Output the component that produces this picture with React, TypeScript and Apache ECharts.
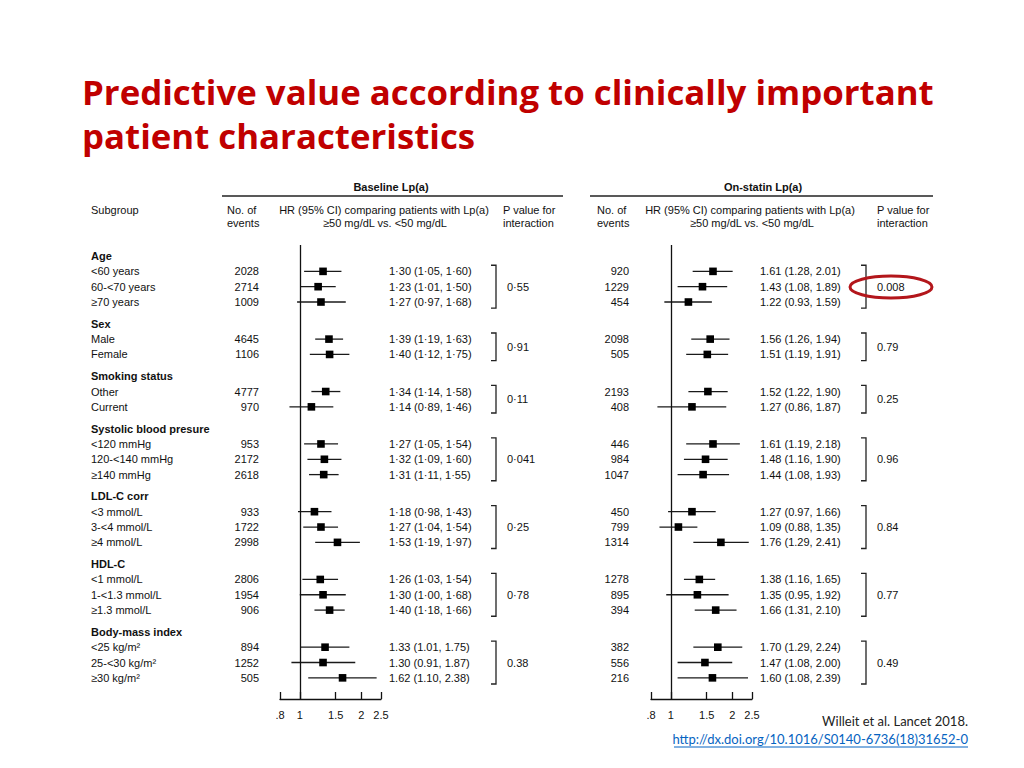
import React, { useEffect, useRef } from "react";
import * as echarts from "echarts";

// ---------- data ----------
const groupNames = [
  "Age",
  "Sex",
  "Smoking status",
  "Systolic blood presure",
  "LDL-C corr",
  "HDL-C",
  "Body-mass index",
];
const subgroupLabels = [
  ["<60 years", "60-<70 years", "≥70 years"],
  ["Male", "Female"],
  ["Other", "Current"],
  ["<120 mmHg", "120-<140 mmHg", "≥140 mmHg"],
  ["<3 mmol/L", "3-<4 mmol/L", "≥4 mmol/L"],
  ["<1 mmol/L", "1-<1.3 mmol/L", "≥1.3 mmol/L"],
  ["<25 kg/m²", "25-<30 kg/m²", "≥30 kg/m²"],
];

const baseEvents = [2028, 2714, 1009, 4645, 1106, 4777, 970, 953, 2172, 2618, 933, 1722, 2998, 2806, 1954, 906, 894, 1252, 505];
const baseHR = [1.30, 1.23, 1.27, 1.39, 1.40, 1.34, 1.14, 1.27, 1.32, 1.31, 1.18, 1.27, 1.53, 1.26, 1.30, 1.40, 1.33, 1.30, 1.62];
const baseLow = [1.05, 1.01, 0.97, 1.19, 1.12, 1.14, 0.89, 1.05, 1.09, 1.11, 0.98, 1.04, 1.19, 1.03, 1.00, 1.18, 1.01, 0.91, 1.10];
const baseHigh = [1.60, 1.50, 1.68, 1.63, 1.75, 1.58, 1.46, 1.54, 1.60, 1.55, 1.43, 1.54, 1.97, 1.54, 1.68, 1.66, 1.75, 1.87, 2.38];
const baseP = ["0·55", "0·91", "0·11", "0·041", "0·25", "0·78", "0.38"];
const baseDecimalMark = ["·", "·", "·", "·", "·", "·", "."];

const statEvents = [920, 1229, 454, 2098, 505, 2193, 408, 446, 984, 1047, 450, 799, 1314, 1278, 895, 394, 382, 556, 216];
const statHR = [1.61, 1.43, 1.22, 1.56, 1.51, 1.52, 1.27, 1.61, 1.48, 1.44, 1.27, 1.09, 1.76, 1.38, 1.35, 1.66, 1.70, 1.47, 1.60];
const statLow = [1.28, 1.08, 0.93, 1.26, 1.19, 1.22, 0.86, 1.19, 1.16, 1.08, 0.97, 0.88, 1.29, 1.16, 0.95, 1.31, 1.29, 1.08, 1.08];
const statHigh = [2.01, 1.89, 1.59, 1.94, 1.91, 1.90, 1.87, 2.18, 1.90, 1.93, 1.66, 1.35, 2.41, 1.65, 1.92, 2.10, 2.24, 2.00, 2.39];
const statP = ["0.008", "0.79", "0.25", "0.96", "0.84", "0.77", "0.49"];
const statDecimalMark = [".", ".", ".", ".", ".", ".", "."];

const tickValues = [0.8, 1, 1.5, 2, 2.5];
const tickLabels = [".8", "1", "1.5", "2", "2.5"];

// ---------- layout ----------
const FONT = '"Liberation Sans", Arial, Helvetica, sans-serif';
const TITLE_FONT = "'Open Sans', Lato, sans-serif";
const CITE_FONT = "Lato, 'Open Sans', sans-serif";
const FS = 11;
const INK = "#111";
const HEADER_GAP = 1.42;
const GRID_TOP = 245;
const GRID_H = 454;
const Y_MIN = -0.72;
const Y_MAX = 28.9;

function buildLayout() {
  const headerPos: number[] = [];
  const rowPos: number[] = [];
  const rowGroup: number[] = [];
  const ranges: number[][] = [];
  let p = 0;
  subgroupLabels.forEach((subs, g) => {
    headerPos.push(p);
    const first = p + 1;
    subs.forEach(() => {
      p += 1;
      rowPos.push(p);
      rowGroup.push(g);
    });
    ranges.push([first, p]);
    p += HEADER_GAP;
  });
  return { headerPos, rowPos, rowGroup, ranges };
}

function textEl(x: number, y: number, text: string, o: any = {}) {
  const align = o.align || "left";
  const valign = o.valign || "middle";
  return {
    type: "text",
    x,
    y,
    silent: true,
    style: {
      text,
      fill: o.fill || INK,
      fontSize: o.fontSize || FS,
      fontFamily: o.fontFamily || FONT,
      fontWeight: o.fontWeight || "normal",
      textAlign: align,
      textVerticalAlign: valign,
      align,
      verticalAlign: valign,
    },
  };
}

function fmt(v: number, mark: string) {
  return v.toFixed(2).replace(".", mark);
}

function buildOption() {
  const { headerPos, rowPos, rowGroup, ranges } = buildLayout();

  const labelItems: { text: string; pos: number; bold: boolean }[] = [];
  let k = 0;
  groupNames.forEach((g, gi) => {
    labelItems.push({ text: g, pos: headerPos[gi], bold: true });
    subgroupLabels[gi].forEach((s) => {
      labelItems.push({ text: s, pos: rowPos[k], bold: false });
      k++;
    });
  });

  const panels = [
    {
      grid: { left: 280, width: 101 },
      events: baseEvents, hr: baseHR, lo: baseLow, hi: baseHigh, p: baseP, mark: baseDecimalMark,
      cols: { events: 259, hr: 389, bracket: 496, p: 507 },
    },
    {
      grid: { left: 651, width: 101 },
      events: statEvents, hr: statHR, lo: statLow, hi: statHigh, p: statP, mark: statDecimalMark,
      cols: { events: 629, hr: 760, bracket: 866, p: 877 },
    },
  ];

  const grids: any[] = [];
  const xAxes: any[] = [];
  const yAxes: any[] = [];
  const series: any[] = [];

  panels.forEach((pn, pi) => {
    grids.push({ left: pn.grid.left, width: pn.grid.width, top: GRID_TOP, height: GRID_H, containLabel: false });
    xAxes.push({
      type: "log",
      logBase: 10,
      gridIndex: pi,
      position: "bottom",
      min: 0.8,
      max: 2.5,
      axisLine: { show: true, onZero: false, lineStyle: { color: INK, width: 1.3 } },
      axisTick: { show: true, inside: true, length: 7, customValues: tickValues, lineStyle: { color: INK, width: 1.3 } },
      axisLabel: {
        show: true,
        customValues: tickValues,
        margin: 10,
        color: INK,
        fontSize: FS,
        fontFamily: FONT,
        formatter: (v: number) => {
          const i = tickValues.findIndex((t) => Math.abs(t - v) < 1e-6);
          return i >= 0 ? tickLabels[i] : "";
        },
      },
      splitLine: { show: false },
      minorTick: { show: false },
    });
    yAxes.push({
      type: "value",
      gridIndex: pi,
      inverse: true,
      min: Y_MIN,
      max: Y_MAX,
      show: false,
      splitLine: { show: false },
    });

    // forest marks
    series.push({
      type: "custom",
      xAxisIndex: pi,
      yAxisIndex: pi,
      encode: { x: [0, 1, 2], y: 3 },
      data: pn.hr.map((h, i) => [pn.lo[i], pn.hi[i], h, rowPos[i]]),
      renderItem: (params: any, api: any) => {
        const y = api.value(3);
        const a = api.coord([api.value(0), y]);
        const b = api.coord([api.value(1), y]);
        const c = api.coord([api.value(2), y]);
        return {
          type: "group",
          children: [
            { type: "line", shape: { x1: a[0], y1: a[1], x2: b[0], y2: b[1] }, style: { stroke: "#1a1a1a", lineWidth: 1.3 } },
            { type: "rect", shape: { x: c[0] - 3.8, y: c[1] - 3.8, width: 7.6, height: 7.6 }, style: { fill: "#000" } },
          ],
        };
      },
      markLine: {
        silent: true,
        symbol: ["none", "none"],
        label: { show: false },
        lineStyle: { color: INK, width: 1.3, type: "solid" },
        data: [{ xAxis: 1 }],
      },
      z: 3,
    });

    // text columns: events and HR (CI)
    series.push({
      type: "custom",
      xAxisIndex: pi,
      yAxisIndex: pi,
      encode: { x: 0, y: 1 },
      data: rowPos.map((p) => [1, p]),
      renderItem: (params: any, api: any) => {
        const i = params.dataIndex;
        const y = api.coord([1, api.value(1)])[1];
        const m = pn.mark[rowGroup[i]];
        const t = `${fmt(pn.hr[i], m)} (${fmt(pn.lo[i], m)}, ${fmt(pn.hi[i], m)})`;
        return {
          type: "group",
          children: [
            textEl(pn.cols.events, y, String(pn.events[i]), { align: "right" }),
            textEl(pn.cols.hr, y, t),
          ],
        };
      },
    });

    // brackets and interaction P values
    series.push({
      type: "custom",
      xAxisIndex: pi,
      yAxisIndex: pi,
      encode: { x: 0, y: [1, 2] },
      data: ranges.map((r) => [1, r[0], r[1]]),
      renderItem: (params: any, api: any) => {
        const g = params.dataIndex;
        const y0 = api.coord([1, api.value(1) - 0.4])[1];
        const y1 = api.coord([1, api.value(2) + 0.4])[1];
        const ym = api.coord([1, (api.value(1) + api.value(2)) / 2])[1];
        const bx = pn.cols.bracket;
        return {
          type: "group",
          children: [
            {
              type: "polyline",
              shape: { points: [[bx - 5, y0], [bx, y0], [bx, y1], [bx - 5, y1]] },
              style: { stroke: "#222", lineWidth: 1.3, fill: "none" },
            },
            textEl(pn.cols.p, ym, pn.p[g]),
          ],
        };
      },
    });
  });

  // subgroup labels (left panel coordinate system)
  series.push({
    type: "custom",
    xAxisIndex: 0,
    yAxisIndex: 0,
    encode: { x: 0, y: 1 },
    data: labelItems.map((l) => [1, l.pos]),
    renderItem: (params: any, api: any) => {
      const it = labelItems[params.dataIndex];
      const y = api.coord([1, api.value(1)])[1];
      return textEl(91, y, it.text, { fontWeight: it.bold ? "bold" : "normal" });
    },
  });

  const graphic: any[] = [
    textEl(82, 91, "Predictive value according to clinically important", {
      fontFamily: TITLE_FONT, fontSize: 34.8, fontWeight: "bold", fill: "#C00000",
    }),
    textEl(82, 135, "patient characteristics", {
      fontFamily: TITLE_FONT, fontSize: 34.8, fontWeight: "bold", fill: "#C00000",
    }),
    textEl(391, 187, "Baseline Lp(a)", { align: "center", fontWeight: "bold" }),
    textEl(763, 187, "On-statin Lp(a)", { align: "center", fontWeight: "bold" }),
    { type: "line", silent: true, shape: { x1: 222, y1: 196, x2: 563, y2: 196 }, style: { stroke: "#222", lineWidth: 1.5 } },
    { type: "line", silent: true, shape: { x1: 590, y1: 196, x2: 933, y2: 196 }, style: { stroke: "#222", lineWidth: 1.5 } },
    textEl(91, 210, "Subgroup"),
    textEl(227, 210, "No. of"),
    textEl(227, 223, "events"),
    textEl(384, 210, "HR (95% CI) comparing patients with Lp(a)", { align: "center" }),
    textEl(385, 223, "≥50 mg/dL vs. <50 mg/dL", { align: "center" }),
    textEl(503, 210, "P value for"),
    textEl(503, 223, "interaction"),
    textEl(597, 210, "No. of"),
    textEl(597, 223, "events"),
    textEl(750, 210, "HR (95% CI) comparing patients with Lp(a)", { align: "center" }),
    textEl(752, 223, "≥50 mg/dL vs. <50 mg/dL", { align: "center" }),
    textEl(877, 210, "P value for"),
    textEl(877, 223, "interaction"),
    {
      type: "ellipse",
      silent: true,
      shape: { cx: 891, cy: 287, rx: 41, ry: 11 },
      style: { fill: "none", stroke: "#B3161B", lineWidth: 3 },
      z: 10,
    },
    textEl(968, 721, "Willeit et al. Lancet 2018.", { align: "right", fontFamily: CITE_FONT, fontSize: 13, fill: "#222" }),
    textEl(968, 739, "http://dx.doi.org/10.1016/S0140-6736(18)31652-0", {
      align: "right", fontFamily: CITE_FONT, fontSize: 13, fill: "#0563C1",
    }),
    { type: "line", silent: true, shape: { x1: 674, y1: 747, x2: 968, y2: 747 }, style: { stroke: "#0563C1", lineWidth: 1 } },
  ];

  return {
    animation: false,
    backgroundColor: "#ffffff",
    grid: grids,
    xAxis: xAxes,
    yAxis: yAxes,
    series,
    graphic,
  };
}

export default function App() {
  const ref = useRef<HTMLDivElement>(null);
  useEffect(() => {
    if (!ref.current) return;
    const chart = echarts.init(ref.current, null, { renderer: "svg" });
    chart.setOption(buildOption() as any);
    return () => chart.dispose();
  }, []);
  return (
    <div
      ref={ref}
      style={{ position: "absolute", left: 0, top: 0, width: 1024, height: 768, background: "#fff" }}
    />
  );
}
